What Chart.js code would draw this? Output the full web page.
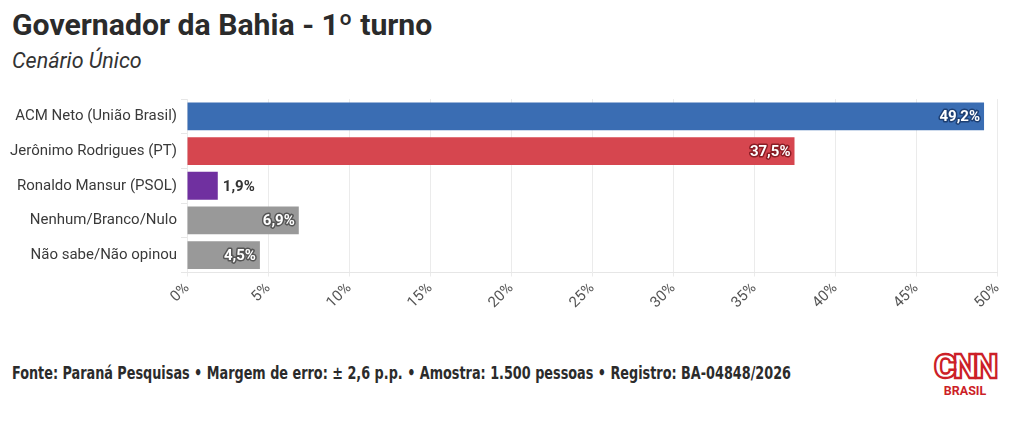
<!DOCTYPE html>
<html><head><meta charset="utf-8">
<script src="https://cdn.jsdelivr.net/npm/chart.js@4.4.1/dist/chart.umd.min.js"></script>
<style>
html,body{margin:0;padding:0;background:#fff;width:1020px;height:431px;overflow:hidden;font-family:Roboto,"Open Sans",sans-serif;}
#title{position:absolute;left:12px;top:7px;font-size:30.2px;font-weight:700;color:#2b2b2b;white-space:nowrap;}
#sub{position:absolute;left:12px;top:48px;font-size:21.5px;font-style:italic;color:#333;white-space:nowrap;}
#wrap{position:absolute;left:0;top:86px;width:1020px;height:244px;}
#foot{position:absolute;left:12px;top:363px;font-size:17px;font-weight:700;color:#2b2b2b;font-family:"Liberation Sans Narrow","DejaVu Sans Condensed",sans-serif;white-space:nowrap;transform-origin:0 0;}
#logo{position:absolute;left:929px;top:342px;width:70px;height:60px;}
</style></head><body>
<div id="title">Governador da Bahia - 1º turno</div>
<div id="sub">Cenário Único</div>
<div id="wrap"><canvas id="c"></canvas></div>
<div id="foot">Fonte: Paraná Pesquisas • Margem de erro: ± 2,6 p.p. • Amostra: 1.500 pessoas • Registro: BA-04848/2026</div>
<svg id="logo" viewBox="0 0 70 60">
<text x="35.5" y="36" text-anchor="middle" font-family="Roboto,sans-serif" font-weight="900" font-size="34" fill="#fff" stroke="#cc1f28" stroke-width="2.3" letter-spacing="-3">CNN</text>
<text x="36" y="53" text-anchor="middle" font-family="Roboto,sans-serif" font-weight="700" font-size="12.5" fill="#cc1f28">BRASIL</text>
</svg>
<script>
const categories = ["ACM Neto (União Brasil)","Jerônimo Rodrigues (PT)","Ronaldo Mansur (PSOL)","Nenhum/Branco/Nulo","Não sabe/Não opinou"];
const values = [49.2, 37.5, 1.9, 6.9, 4.5];
const labels = ["49,2%","37,5%","1,9%","6,9%","4,5%"];
const colors = ["#3a6db3","#d6464f","#7030a0","#999999","#999999"];
const strokeColors = ["#1d3f73","#8a1c24","#3d1460","#555555","#555555"];
const xTicks = [0,5,10,15,20,25,30,35,40,45,50];

// fit footer to reference width
const foot = document.getElementById('foot');
const fw = foot.getBoundingClientRect().width;
foot.style.transform = 'scaleX(' + (779 / fw) + ')';

const labelPlugin = {
  id:'barLabels',
  afterDatasetsDraw(chart){
    const ctx = chart.ctx;
    const meta = chart.getDatasetMeta(0);
    ctx.save();
    ctx.font = "700 15px Roboto, sans-serif";
    ctx.textBaseline = 'middle';
    meta.data.forEach((bar,i)=>{
      const txt = labels[i];
      const w = ctx.measureText(txt).width;
      const barW = bar.x - bar.base;
      if (barW > w + 12) {
        ctx.textAlign = 'right';
        ctx.lineWidth = 3;
        ctx.lineJoin = 'round';
        ctx.strokeStyle = strokeColors[i];
        ctx.strokeText(txt, bar.x - 4, bar.y + 1);
        ctx.fillStyle = '#fff';
        ctx.fillText(txt, bar.x - 4, bar.y + 1);
      } else {
        ctx.textAlign = 'left';
        ctx.fillStyle = '#333';
        ctx.fillText(txt, bar.x + 5, bar.y + 1);
      }
    });
    ctx.restore();
  }
};

new Chart(document.getElementById('c'), {
  type:'bar',
  data:{labels:categories, datasets:[{data:values, backgroundColor:colors, barPercentage:0.8, categoryPercentage:1}]},
  options:{
    indexAxis:'y', responsive:true, maintainAspectRatio:false, animation:false,
    layout:{padding:{top:3,right:23,left:0,bottom:0}},
    plugins:{legend:{display:false}, tooltip:{enabled:false}},
    scales:{
      x:{min:0,max:50,
        afterBuildTicks(s){ s.ticks = xTicks.map(v=>({value:v})); },
        afterFit(s){ s.height = 57.5; },
        grid:{color:'#ebebeb', tickLength:4, drawTicks:true},
        border:{color:'#e6e6e6'},
        ticks:{callback:v=>v+'%', maxRotation:45, minRotation:45, color:'#555', font:{family:'Roboto', size:15}, padding:3}
      },
      y:{
        afterFit(s){ s.width = 187; },
        grid:{display:true, drawOnChartArea:false, color:'#e6e6e6', tickLength:6},
        border:{display:false},
        ticks:{color:'#3a3a3a', font:{family:'Roboto', size:15}, padding:4}
      }
    }
  },
  plugins:[labelPlugin]
});
</script>
</body></html>
